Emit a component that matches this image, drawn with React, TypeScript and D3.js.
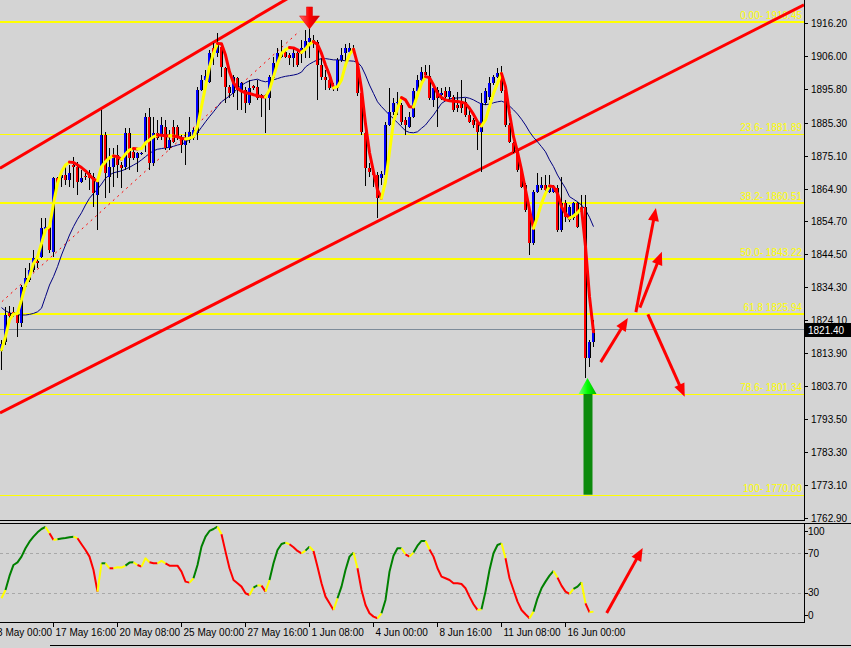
import React from 'react';
import * as d3 from 'd3';

// ---------- DATA (XAUUSD H4) ----------
const opens = [
  1814.6, 1817.4, 1826.3, 1826.7, 1825.7, 1823.1, 1834.5, 1836.6, 1839.7, 1842.5,
  1843.8, 1852.1, 1853.1, 1845.3, 1868.1, 1868.1, 1869.1, 1867.6, 1872.2, 1871.7,
  1867.0, 1868.8, 1869.6, 1868.6, 1862.9, 1871.7, 1881.5, 1868.6, 1871.7, 1875.3,
  1872.2, 1871.7, 1882.0, 1876.3, 1874.3, 1875.6, 1878.9, 1887.2, 1872.7, 1882.0,
  1881.5, 1884.1, 1877.4, 1884.1, 1884.1, 1881.0, 1878.4, 1880.0, 1880.5, 1882.0,
  1895.5, 1898.6, 1898.0, 1908.4, 1906.8, 1908.9, 1902.2, 1896.5, 1894.4, 1899.1,
  1895.5, 1895.5, 1891.3, 1896.7, 1896.5, 1893.9, 1893.9, 1892.9, 1899.1, 1903.7,
  1905.8, 1907.3, 1906.3, 1905.3, 1906.8, 1906.9, 1908.2, 1910.3, 1911.0, 1910.3,
  1903.2, 1899.6, 1898.6, 1896.5, 1896.0, 1904.8, 1906.9, 1907.3, 1908.4, 1903.7,
  1894.4, 1882.0, 1871.2, 1870.1, 1869.1, 1868.3, 1869.1, 1884.6, 1888.7, 1891.3,
  1890.8, 1886.2, 1884.1, 1887.2, 1895.0, 1898.6, 1901.1, 1899.8, 1892.4, 1895.5,
  1893.9, 1895.0, 1893.4, 1893.3, 1890.8, 1891.4, 1891.8, 1887.7, 1886.2, 1885.1,
  1882.5, 1891.3, 1893.4, 1897.5, 1899.6, 1900.6, 1895.5, 1884.6, 1878.9, 1876.9,
  1870.7, 1866.0, 1858.3, 1847.9, 1863.9, 1865.0, 1866.0, 1863.9, 1863.9, 1865.0,
  1852.1, 1860.3, 1855.2, 1855.7, 1860.3, 1857.7, 1859.3, 1812.3, 1817.4,
];
const highs = [
  1818.0, 1828.3, 1828.5, 1828.3, 1826.3, 1835.0, 1840.3, 1841.8, 1845.9, 1843.4,
  1855.7, 1855.7, 1853.9, 1868.6, 1868.6, 1870.7, 1871.7, 1872.2, 1874.8, 1873.2,
  1870.7, 1869.7, 1870.7, 1869.6, 1868.6, 1889.3, 1882.5, 1877.4, 1877.4, 1878.4,
  1873.2, 1883.6, 1883.6, 1877.4, 1876.3, 1876.3, 1888.3, 1889.8, 1887.2, 1886.2,
  1887.2, 1886.2, 1883.1, 1886.2, 1884.5, 1881.5, 1882.5, 1887.2, 1883.6, 1896.5,
  1900.1, 1901.7, 1907.9, 1909.9, 1913.0, 1909.9, 1902.7, 1897.0, 1900.1, 1899.6,
  1898.0, 1896.5, 1898.6, 1897.0, 1898.6, 1894.3, 1894.3, 1900.1, 1905.8, 1908.4,
  1911.0, 1908.4, 1906.8, 1908.4, 1907.9, 1911.0, 1914.1, 1914.7, 1912.5, 1911.0,
  1905.4, 1901.7, 1899.2, 1897.5, 1905.4, 1908.5, 1909.7, 1909.9, 1909.4, 1904.8,
  1895.5, 1882.5, 1872.7, 1871.7, 1870.1, 1870.4, 1885.6, 1896.0, 1892.9, 1894.9,
  1891.3, 1887.2, 1888.7, 1896.0, 1900.1, 1902.7, 1903.2, 1903.2, 1897.0, 1896.5,
  1896.1, 1896.5, 1896.5, 1893.9, 1894.8, 1898.6, 1893.0, 1889.3, 1886.8, 1885.6,
  1894.4, 1896.0, 1899.6, 1900.1, 1902.2, 1902.9, 1896.0, 1885.1, 1879.4, 1877.4,
  1871.7, 1866.5, 1859.3, 1864.5, 1869.6, 1868.6, 1869.1, 1869.1, 1866.0, 1866.0,
  1868.6, 1861.4, 1859.8, 1860.8, 1860.8, 1862.9, 1862.9, 1818.0, 1824.2,
];
const lows = [
  1808.7, 1816.5, 1824.2, 1825.1, 1819.0, 1822.1, 1834.1, 1836.0, 1839.0, 1840.3,
  1843.4, 1851.7, 1844.8, 1843.8, 1865.5, 1865.5, 1866.0, 1865.5, 1865.0, 1862.9,
  1866.5, 1867.6, 1864.5, 1859.3, 1852.1, 1870.7, 1861.9, 1863.4, 1865.5, 1868.1,
  1865.0, 1870.7, 1870.7, 1873.8, 1870.1, 1875.3, 1876.3, 1870.7, 1872.0, 1880.0,
  1880.0, 1876.9, 1876.9, 1878.9, 1880.0, 1875.8, 1872.2, 1878.9, 1880.0, 1880.0,
  1895.0, 1896.5, 1897.5, 1903.2, 1905.8, 1899.6, 1891.3, 1892.9, 1893.4, 1889.3,
  1889.3, 1888.2, 1890.8, 1895.5, 1892.4, 1887.2, 1882.0, 1889.3, 1898.6, 1902.7,
  1905.3, 1905.3, 1903.2, 1902.7, 1902.7, 1903.8, 1905.4, 1905.4, 1908.5, 1892.4,
  1898.6, 1895.5, 1895.5, 1895.0, 1895.0, 1904.1, 1904.1, 1906.9, 1906.9, 1893.6,
  1881.5, 1865.7, 1868.6, 1865.5, 1855.7, 1866.0, 1868.6, 1884.3, 1887.7, 1887.7,
  1884.6, 1881.5, 1883.6, 1886.7, 1894.4, 1897.5, 1899.1, 1892.4, 1890.3, 1884.1,
  1892.4, 1892.4, 1892.4, 1888.6, 1888.6, 1888.3, 1887.1, 1885.1, 1883.7, 1876.9,
  1870.1, 1890.8, 1892.4, 1897.0, 1899.1, 1894.4, 1884.1, 1878.9, 1875.8, 1870.0,
  1865.0, 1857.7, 1844.3, 1847.4, 1863.4, 1864.5, 1863.9, 1863.4, 1863.4, 1851.5,
  1851.5, 1854.6, 1854.6, 1855.2, 1852.6, 1857.2, 1806.2, 1809.7, 1815.9,
];
const closes = [
  1816.7, 1825.7, 1825.4, 1825.7, 1823.1, 1834.5, 1837.1, 1839.7, 1843.3, 1841.8,
  1852.6, 1853.1, 1845.9, 1868.1, 1866.5, 1869.1, 1867.6, 1869.6, 1871.7, 1867.0,
  1868.1, 1868.5, 1868.1, 1863.4, 1867.0, 1881.5, 1869.6, 1871.7, 1874.8, 1872.2,
  1871.2, 1882.0, 1874.3, 1874.3, 1875.8, 1875.9, 1887.1, 1872.7, 1882.0, 1880.6,
  1884.6, 1877.4, 1880.0, 1879.4, 1880.5, 1878.4, 1880.5, 1882.5, 1883.1, 1895.5,
  1898.6, 1899.8, 1906.8, 1906.8, 1910.4, 1902.7, 1896.5, 1894.4, 1899.6, 1895.5,
  1897.5, 1891.3, 1896.0, 1896.1, 1892.9, 1892.9, 1892.9, 1899.6, 1903.7, 1906.8,
  1906.8, 1905.8, 1905.3, 1906.8, 1903.2, 1908.5, 1910.7, 1911.6, 1910.0, 1903.2,
  1899.6, 1898.6, 1896.0, 1896.0, 1904.8, 1906.3, 1908.4, 1908.4, 1907.3, 1894.4,
  1882.5, 1871.2, 1870.1, 1869.1, 1861.9, 1869.3, 1884.6, 1888.7, 1891.3, 1891.8,
  1885.6, 1884.6, 1887.2, 1895.0, 1898.6, 1901.1, 1900.1, 1892.9, 1896.0, 1892.9,
  1894.5, 1893.4, 1895.0, 1889.3, 1889.9, 1889.9, 1887.7, 1885.6, 1884.6, 1882.5,
  1891.3, 1895.0, 1897.5, 1899.6, 1900.6, 1895.0, 1884.6, 1879.4, 1876.3, 1870.7,
  1865.5, 1858.3, 1847.9, 1863.9, 1866.0, 1866.0, 1864.5, 1865.5, 1865.5, 1852.1,
  1860.3, 1856.2, 1859.3, 1860.3, 1853.1, 1859.3, 1812.3, 1817.4, 1821.4,
];
// fast smoothed line (yellow rising / red falling)
const fastLine = [
  1814.9, 1819.0, 1824.2, 1826.0, 1826.2, 1830.4, 1835.0, 1837.6, 1841.7, 1843.8,
  1847.9, 1852.1, 1853.1, 1860.3, 1866.5, 1870.1, 1872.2, 1873.1, 1873.0, 1872.2,
  1871.4, 1870.4, 1869.1, 1867.8, 1867.3, 1871.7, 1873.2, 1874.5, 1875.0, 1874.8,
  1874.0, 1875.6, 1876.9, 1877.3, 1877.2, 1877.3, 1879.1, 1880.0, 1881.0, 1881.5,
  1881.4, 1881.3, 1881.2, 1881.2, 1881.0, 1880.5, 1880.3, 1880.5, 1881.0, 1884.1,
  1890.3, 1896.5, 1902.7, 1906.8, 1909.9, 1909.8, 1906.3, 1901.1, 1897.7, 1896.0,
  1895.1, 1894.6, 1894.4, 1894.0, 1893.7, 1893.4, 1893.3, 1895.5, 1899.6, 1903.7,
  1906.8, 1908.0, 1908.6, 1908.5, 1907.9, 1907.1, 1908.2, 1909.7, 1910.4, 1909.6,
  1906.8, 1903.2, 1900.1, 1896.1, 1896.5, 1898.6, 1903.2, 1906.5, 1908.1, 1903.5,
  1895.8, 1884.9, 1876.1, 1870.1, 1864.5, 1861.9, 1867.0, 1876.3, 1885.6, 1889.8,
  1893.1, 1892.4, 1890.3, 1890.2, 1893.9, 1897.5, 1899.6, 1899.3, 1897.0, 1894.4,
  1893.1, 1892.4, 1892.1, 1892.0, 1891.9, 1891.7, 1891.3, 1889.8, 1887.9, 1885.6,
  1884.3, 1886.2, 1890.3, 1894.4, 1897.5, 1900.6, 1896.5, 1888.2, 1881.0, 1876.3,
  1870.7, 1864.5, 1858.3, 1852.6, 1856.2, 1860.3, 1863.4, 1865.7, 1865.5, 1863.4,
  1859.3, 1857.2, 1855.7, 1856.4, 1857.4, 1858.8, 1846.9, 1831.4, 1820.5,
];
// slow moving average (navy)
const slowMA = [
  1828.0, 1827.0, 1826.4, 1826.0, 1825.8, 1825.7, 1825.7, 1825.9, 1826.2, 1826.7,
  1827.8, 1831.4, 1835.0, 1837.6, 1840.7, 1844.3, 1847.4, 1850.5, 1853.1, 1855.4,
  1857.4, 1859.8, 1861.9, 1863.4, 1864.7, 1866.3, 1868.1, 1869.1, 1869.8, 1870.1,
  1870.4, 1870.9, 1871.5, 1872.2, 1872.9, 1873.8, 1874.8, 1875.8, 1876.6, 1877.1,
  1877.3, 1877.5, 1877.7, 1878.0, 1878.4, 1878.7, 1879.2, 1880.2, 1881.0, 1882.2,
  1883.9, 1885.6, 1887.2, 1888.7, 1890.3, 1891.8, 1892.7, 1893.6, 1894.6, 1895.9,
  1896.9, 1897.7, 1898.3, 1898.6, 1898.8, 1898.3, 1898.0, 1898.3, 1898.6, 1899.0,
  1899.4, 1899.7, 1899.9, 1900.1, 1900.4, 1901.0, 1902.6, 1903.5, 1904.2, 1904.8,
  1905.2, 1905.2, 1905.0, 1904.8, 1904.8, 1904.7, 1904.5, 1904.5, 1904.4, 1904.1,
  1902.7, 1900.1, 1897.0, 1894.4, 1891.8, 1890.3, 1889.0, 1887.7, 1886.6, 1885.3,
  1884.1, 1882.8, 1882.3, 1882.2, 1882.5, 1883.6, 1884.6, 1886.2, 1887.7, 1889.5,
  1891.3, 1892.1, 1892.7, 1892.9, 1893.0, 1893.1, 1893.2, 1892.9, 1892.4, 1891.7,
  1891.1, 1890.9, 1891.1, 1891.5, 1891.8, 1892.0, 1891.5, 1890.5, 1889.3, 1888.0,
  1886.4, 1884.6, 1882.5, 1880.8, 1879.4, 1877.9, 1876.3, 1873.8, 1871.7, 1869.1,
  1867.0, 1865.0, 1862.4, 1861.6, 1860.8, 1859.8, 1858.3, 1856.0, 1853.1,
];
// oscillator (0..100)
const oscValues = [
  24.2, 32.7, 47.0, 58.2, 60.9, 66.7, 75.2, 82.0, 87.1, 91.5,
  94.9, 97.0, 90.5, 83.7, 84.4, 85.1, 85.7, 86.4, 87.1, 85.4,
  79.4, 73.5, 66.7, 53.1, 31.0, 59.9, 59.9, 54.8, 54.8, 55.8,
  55.5, 57.5, 60.6, 60.9, 58.2, 56.5, 65.0, 60.9, 59.9, 59.9,
  62.3, 59.9, 57.5, 57.5, 57.5, 51.4, 41.2, 40.2, 44.6, 58.2,
  76.9, 87.1, 92.9, 94.9, 97.3, 89.5, 71.8, 54.8, 42.9, 39.5,
  36.1, 29.3, 27.6, 35.1, 37.5, 37.1, 31.0, 42.9, 59.9, 73.5,
  79.6, 81.0, 79.3, 76.2, 72.5, 70.1, 72.8, 76.9, 72.5, 56.5,
  39.5, 25.9, 19.1, 12.3, 24.2, 36.1, 53.1, 66.7, 70.8, 54.8,
  32.7, 17.4, 8.9, 5.5, 3.8, 8.9, 22.5, 51.4, 67.7, 75.2,
  75.2, 69.1, 66.7, 70.8, 77.9, 82.7, 82.7, 74.0, 66.7, 54.8,
  46.3, 44.6, 42.9, 39.5, 39.5, 38.8, 34.4, 25.9, 18.1, 12.3,
  13.0, 31.0, 53.1, 70.1, 78.6, 80.3, 65.0, 44.6, 32.7, 20.8,
  12.3, 7.9, 3.8, 10.6, 24.2, 34.4, 41.2, 47.3, 52.1, 45.3,
  37.1, 31.0, 28.6, 33.7, 36.1, 40.5, 19.1, 9.9, 10.6,
];

const priceTicks = [1916.2, 1906.0, 1895.8, 1885.3, 1875.1, 1864.9, 1854.7, 1844.5, 1834.3, 1824.1, 1813.9, 1803.7, 1793.5, 1783.3, 1773.1, 1762.9];
const timeLabels = ['13 May 00:00', '17 May 16:00', '20 May 08:00', '25 May 00:00', '27 May 16:00', '1 Jun 08:00', '4 Jun 00:00', '8 Jun 16:00', '11 Jun 08:00', '16 Jun 00:00'];
const timeLabelBars = [-3, 13, 29, 45, 61, 77, 93, 109, 125, 141];
const fibLevels = ['0.00-', '23.6-', '38.2-', '50.0-', '61.8', '78.6-', '100-'];
const fibPrices = [1916.45, 1881.89, 1860.51, 1843.22, 1825.94, 1801.34, 1770.0];
const fibWidths = [2, 1, 2, 2, 2, 1, 1];
const currentPrice = 1821.4;
const oscLevels = [70, 30];
const oscAxisLabels = ['100', '70', '30', '0'];
const oscAxisValues = [100, 70, 30, 0];

// trend lines: [bar, price] anchor pairs
const upperChannel = [[0, 1871.5], [70, 1922.7]];
const lowerChannel = [[0, 1795.6], [140, 1883.7]];
const dottedTrend = [[-1, 1828.6], [74.5, 1913.7]];
// hand-drawn forecast arrows: [bar1, price1, bar2, price2]
const forecastArrows = [
  [149.8, 1811.1, 156.6, 1824.8],
  [158.6, 1826.6, 163.6, 1858.9],
  [159.6, 1828.0, 165.1, 1845.3],
  [161.6, 1825.9, 170.8, 1800.4],
];
const oscArrow = [151.3, 9.2, 160.3, 75.5];
const sellSignalBar = 77;
const buySignalBar = 146;

const FONT = 'Liberation Sans, Arial, sans-serif';

function arrowPath(x1: number, y1: number, x2: number, y2: number, head = 13, hw = 5.5) {
  const dx = x2 - x1, dy = y2 - y1;
  const len = Math.hypot(dx, dy);
  const ux = dx / len, uy = dy / len;
  const px = -uy, py = ux;
  const bx = x2 - ux * head, by = y2 - uy * head;
  return { shaft: [x1, y1, bx + ux * 2, by + uy * 2], head: `M${x2},${y2} L${bx + px * hw},${by + py * hw} L${bx - px * hw},${by - py * hw} Z` };
}

export default function App() {
  const W = 851, H = 648;
  const plotR = 804;
  const mainBottom = 521;
  const oscTop = 524, oscBottom = 622;

  const x = d3.scaleLinear().domain([0, 200]).range([1.5, 801.5]);
  const y = d3.scaleLinear().domain([1762.9, 1916.2]).range([517.6, 23.1]);
  const yo = d3.scaleLinear().domain([0, 100]).range([622, 524]);

  const n = closes.length;
  const cx = (i: number) => Math.round(x(i) - 0.5) + 0.5;

  const fastSegs: { color: string; pts: [number, number][] }[] = [];
  for (let i = 1; i < n; i++) {
    const color = fastLine[i] >= fastLine[i - 1] ? '#FFFF00' : '#FF0000';
    const last = fastSegs[fastSegs.length - 1];
    const p0: [number, number] = [x(i - 1), y(fastLine[i - 1])];
    const p1: [number, number] = [x(i), y(fastLine[i])];
    if (last && last.color === color) last.pts.push(p1);
    else fastSegs.push({ color, pts: [p0, p1] });
  }
  const lineGen = d3.line<[number, number]>().x(d => d[0]).y(d => d[1]);

  const oscSegs: { color: string; pts: [number, number][] }[] = [];
  let prevDir = 0;
  for (let i = 1; i < n; i++) {
    const d = oscValues[i] - oscValues[i - 1];
    const dir = d > 0 ? 1 : d < 0 ? -1 : prevDir;
    let color = dir > 0 ? '#008000' : '#FF0000';
    if (dir !== prevDir) color = '#FFFF00';
    prevDir = dir;
    const last = oscSegs[oscSegs.length - 1];
    const p0: [number, number] = [x(i - 1), yo(oscValues[i - 1])];
    const p1: [number, number] = [x(i), yo(oscValues[i])];
    if (last && last.color === color) last.pts.push(p1);
    else oscSegs.push({ color, pts: [p0, p1] });
  }

  const extLine = (a: number[][]) => {
    const [[b1, p1], [b2, p2]] = a;
    const x1 = x(b1), y1 = y(p1), x2 = x(b2), y2 = y(p2);
    const m = (y2 - y1) / (x2 - x1);
    return { x1: 0, y1: y1 - m * x1, x2: plotR, y2: y1 + m * (plotR - x1) };
  };
  const up = extLine(upperChannel);
  const lo = extLine(lowerChannel);

  const sx = cx(sellSignalBar), sTip = y(highs[sellSignalBar]) + 1;
  const gx = cx(buySignalBar) + 2, gTip = y(lows[buySignalBar]);
  const fib100Y = y(fibPrices[6]);

  return (
    <svg width={W} height={H} style={{ position: 'absolute', left: 0, top: 0, display: 'block' }} xmlns="http://www.w3.org/2000/svg">
      <defs>
        <clipPath id="mainClip"><rect x={0} y={0} width={plotR} height={mainBottom} /></clipPath>
        <clipPath id="oscClip"><rect x={0} y={oscTop} width={plotR} height={oscBottom - oscTop} /></clipPath>
        <linearGradient id="redArrow" x1="0" x2="1" y1="0" y2="0">
          <stop offset="0" stopColor="#ff6a6a" />
          <stop offset="0.5" stopColor="#ff0000" />
          <stop offset="1" stopColor="#c80000" />
        </linearGradient>
        <linearGradient id="greenArrow" x1="0" x2="1" y1="0" y2="0">
          <stop offset="0" stopColor="#7dff7d" />
          <stop offset="0.5" stopColor="#00ff00" />
          <stop offset="1" stopColor="#00b000" />
        </linearGradient>
      </defs>
      <rect x={0} y={0} width={W} height={H} fill="#D4D4D4" />

      {/* ---------- main panel ---------- */}
      <g clipPath="url(#mainClip)">
        {fibPrices.map((p, i) => {
          const yy = fibWidths[i] === 1 ? Math.round(y(p)) + 0.5 : Math.round(y(p));
          return <line key={'f' + i} x1={0} x2={plotR} y1={yy} y2={yy} stroke="#FFFF00" strokeWidth={fibWidths[i]} />;
        })}
        {fibPrices.map((p, i) => (
          <text key={'ft' + i} x={plotR - 2} y={Math.round(y(p)) - 3} fill="#FFFF00" fontFamily={FONT} fontSize={10} textAnchor="end">
            {`${fibLevels[i]} ${p.toFixed(2)}`}
          </text>
        ))}
        <line x1={0} x2={plotR} y1={Math.round(y(currentPrice)) + 0.5} y2={Math.round(y(currentPrice)) + 0.5} stroke="#7E8C9A" strokeWidth={1} />

        <line {...up} stroke="#FF0000" strokeWidth={3} />
        <line {...lo} stroke="#FF0000" strokeWidth={3} />
        <line x1={x(dottedTrend[0][0])} y1={y(dottedTrend[0][1])} x2={x(dottedTrend[1][0])} y2={y(dottedTrend[1][1])} stroke="#FF0000" strokeWidth={1} strokeDasharray="2,4" />

        <path d={lineGen(slowMA.map((v, i) => [x(i), y(v)]) as [number, number][]) || ''} fill="none" stroke="#000080" strokeWidth={1} />

        {closes.map((c, i) => {
          const o = opens[i];
          const xx = cx(i);
          const top = Math.round(y(Math.max(o, c)));
          const bot = Math.round(y(Math.min(o, c)));
          const bull = c > o;
          return (
            <g key={'c' + i}>
              <line x1={xx} x2={xx} y1={Math.round(y(highs[i]))} y2={Math.round(y(lows[i]))} stroke="#000" strokeWidth={1} />
              {bot - top >= 1 ? (
                <rect x={xx - 1.5} y={top} width={3} height={bot - top} fill={bull ? '#0000FF' : '#FF0000'} />
              ) : (
                <line x1={xx - 1.5} x2={xx + 1.5} y1={top + 0.5} y2={top + 0.5} stroke="#000" />
              )}
              {bot - top >= 1 && <line x1={xx + 1} x2={xx + 1} y1={top} y2={bot} stroke="#000" strokeWidth={1} />}
            </g>
          );
        })}

        {fastSegs.map((s, i) => (
          <path key={'fs' + i} d={lineGen(s.pts) || ''} fill="none" stroke={s.color} strokeWidth={3} strokeLinejoin="round" strokeLinecap="round" />
        ))}

        <path d={`M${sx - 3},${sTip - 22} L${sx + 3},${sTip - 22} L${sx + 3},${sTip - 13} L${sx + 10},${sTip - 13} L${sx},${sTip} L${sx - 10},${sTip - 13} L${sx - 3},${sTip - 13} Z`} fill="url(#redArrow)" stroke="#e00000" strokeWidth={0.5} />

        <rect x={gx - 4} y={gTip + 15} width={9} height={fib100Y - gTip - 15} fill="#0C8A0C" />
        <path d={`M${gx},${gTip} L${gx + 9},${gTip + 16} L${gx - 9},${gTip + 16} Z`} fill="url(#greenArrow)" />

        {forecastArrows.map((a, i) => {
          const ap = arrowPath(x(a[0]), y(a[1]), x(a[2]), y(a[3]));
          return (
            <g key={'fa' + i}>
              <line x1={ap.shaft[0]} y1={ap.shaft[1]} x2={ap.shaft[2]} y2={ap.shaft[3]} stroke="#FF0000" strokeWidth={3} />
              <path d={ap.head} fill="#FF0000" />
            </g>
          );
        })}
      </g>

      <line x1={plotR + 0.5} x2={plotR + 0.5} y1={0} y2={mainBottom} stroke="#000" />
      <line x1={0} x2={plotR + 1} y1={mainBottom - 0.5} y2={mainBottom - 0.5} stroke="#000" />

      {priceTicks.map((p, i) => {
        const yy = Math.round(y(p)) + 0.5;
        return (
          <g key={'pt' + i}>
            <line x1={plotR + 1} x2={plotR + 4} y1={yy} y2={yy} stroke="#000" />
            <text x={811} y={yy + 3.5} fontFamily={FONT} fontSize={10} fill="#000">{p.toFixed(2)}</text>
          </g>
        );
      })}
      <rect x={805} y={Math.round(y(currentPrice)) - 6} width={46} height={14} fill="#000" />
      <text x={808} y={Math.round(y(currentPrice)) + 5} fontFamily={FONT} fontSize={10} fill="#FFF">{currentPrice.toFixed(2)}</text>

      {/* ---------- oscillator panel ---------- */}
      <line x1={0} x2={W} y1={oscTop - 0.5} y2={oscTop - 0.5} stroke="#000" />
      <line x1={plotR + 0.5} x2={plotR + 0.5} y1={oscTop} y2={oscBottom + 1} stroke="#000" />
      <line x1={0} x2={plotR + 1} y1={oscBottom + 0.5} y2={oscBottom + 0.5} stroke="#000" />
      {oscLevels.map((v, i) => (
        <line key={'ol' + i} x1={0} x2={plotR} y1={Math.round(yo(v)) + 0.5} y2={Math.round(yo(v)) + 0.5} stroke="#A8A8A8" strokeDasharray="3,3" />
      ))}
      <g clipPath="url(#oscClip)">
        {oscSegs.map((s, i) => (
          <path key={'os' + i} d={lineGen(s.pts) || ''} fill="none" stroke={s.color} strokeWidth={2} strokeLinejoin="round" />
        ))}
        {(() => {
          const ap = arrowPath(x(oscArrow[0]), yo(oscArrow[1]), x(oscArrow[2]), yo(oscArrow[3]));
          return (
            <g>
              <line x1={ap.shaft[0]} y1={ap.shaft[1]} x2={ap.shaft[2]} y2={ap.shaft[3]} stroke="#FF0000" strokeWidth={3} />
              <path d={ap.head} fill="#FF0000" />
            </g>
          );
        })()}
      </g>
      {oscAxisLabels.map((t, i) => {
        const v = oscAxisValues[i];
        const yy = v === 100 ? oscTop + 7 : v === 0 ? oscBottom - 7 : yo(v);
        return (
          <g key={'oa' + i}>
            <line x1={plotR + 1} x2={plotR + 4} y1={Math.round(yy) + 0.5} y2={Math.round(yy) + 0.5} stroke="#000" />
            <text x={808} y={yy + 3.5} fontFamily={FONT} fontSize={10} fill="#000">{t}</text>
          </g>
        );
      })}

      {timeLabels.map((t, i) => {
        const xx = cx(timeLabelBars[i]);
        return (
          <g key={'tl' + i}>
            <line x1={xx} x2={xx} y1={oscBottom + 1} y2={oscBottom + 5} stroke="#000" />
            <text x={xx + 2} y={636} fontFamily={FONT} fontSize={10} fill="#000">{t}</text>
          </g>
        );
      })}
      <line x1={50} x2={W} y1={645.5} y2={645.5} stroke="#000" />
    </svg>
  );
}
